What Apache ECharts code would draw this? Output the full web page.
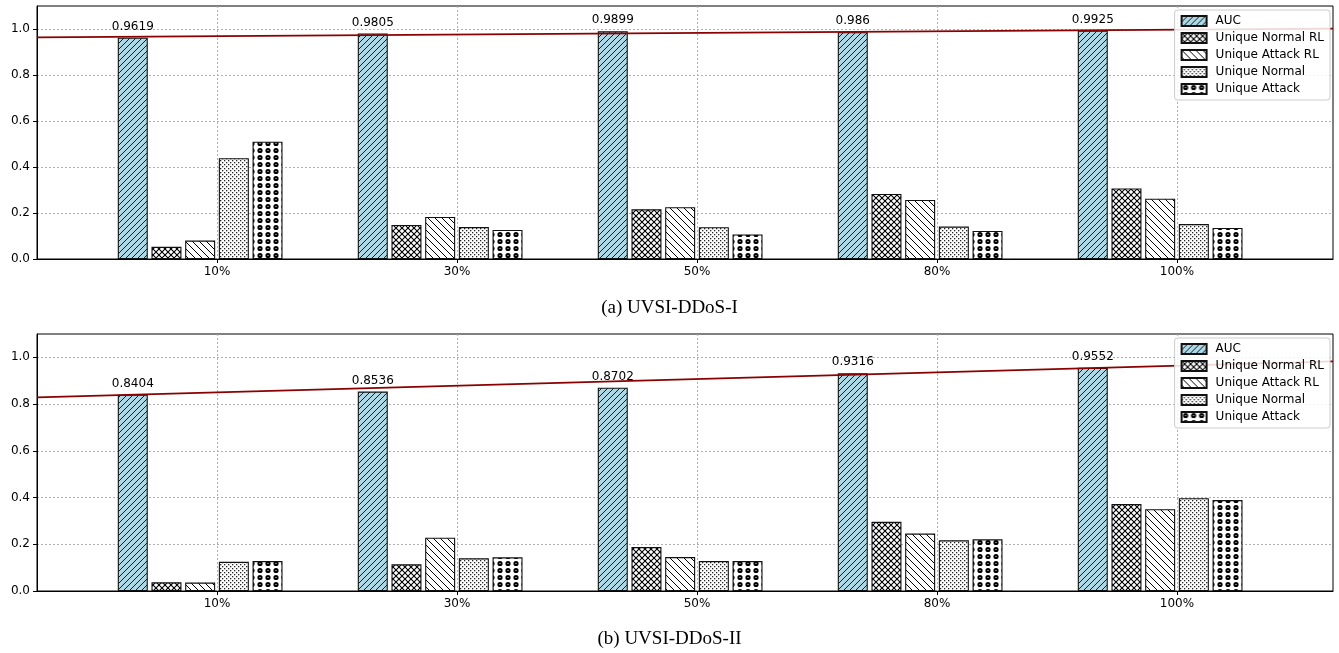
<!DOCTYPE html>
<html>
<head>
<meta charset="utf-8">
<script src="https://cdn.jsdelivr.net/npm/echarts@6/dist/echarts.min.js"></script>
<style>
html,body{margin:0;padding:0;background:#fff;}
#chart{width:1339px;height:653px;}
</style>
</head>
<body>
<div id="chart"></div>
<script>
// ---- data ----
const categories = ['10%', '30%', '50%', '80%', '100%'];
const seriesNames = ['AUC', 'Unique Normal RL', 'Unique Attack RL', 'Unique Normal', 'Unique Attack'];
const yTicks = [0, 0.2, 0.4, 0.6, 0.8, 1.0];
const captions = ['(a) UVSI-DDoS-I', '(b) UVSI-DDoS-II'];

// UVSI-DDoS-I
const aucA = [0.9619, 0.9805, 0.9899, 0.986, 0.9925];
const normalRLA = [0.053, 0.148, 0.216, 0.283, 0.307];
const attackRLA = [0.080, 0.183, 0.225, 0.257, 0.262];
const normalA = [0.438, 0.139, 0.138, 0.141, 0.152];
const attackA = [0.510, 0.126, 0.107, 0.122, 0.135];
const trendA = [0.964, 1.002];

// UVSI-DDoS-II
const aucB = [0.8404, 0.8536, 0.8702, 0.9316, 0.9552];
const normalRLB = [0.037, 0.114, 0.188, 0.296, 0.372];
const attackRLB = [0.036, 0.228, 0.145, 0.246, 0.350];
const normalB = [0.125, 0.140, 0.128, 0.217, 0.397];
const attackB = [0.128, 0.144, 0.128, 0.221, 0.389];
const trendB = [0.829, 0.983];

// x extent in category units
const xMin = -0.75, xMax = 4.65;

// ---- patterns ----
function tile(w, h, bg, draw) {
  const c = document.createElement('canvas');
  c.width = w; c.height = h;
  const g = c.getContext('2d');
  g.fillStyle = bg; g.fillRect(0, 0, w, h);
  g.strokeStyle = '#000'; g.fillStyle = '#000';
  draw(g, w, h);
  return { image: c, repeat: 'repeat' };
}
function fwd(g, s) { // '/'
  g.beginPath();
  g.moveTo(-1, s + 1); g.lineTo(s + 1, -1);
  g.moveTo(-1, 1); g.lineTo(1, -1);
  g.moveTo(s - 1, s + 1); g.lineTo(s + 1, s - 1);
  g.stroke();
}
function back(g, s) { // '\'
  g.beginPath();
  g.moveTo(-1, -1); g.lineTo(s + 1, s + 1);
  g.moveTo(s - 1, -1); g.lineTo(s + 1, 1);
  g.moveTo(-1, s - 1); g.lineTo(1, s + 1);
  g.stroke();
}
const patterns = [
  tile(6, 6, '#add8e6', (g) => { g.strokeStyle = '#1a1a1a'; g.lineWidth = 1; fwd(g, 6); }),
  tile(6, 6, '#ffffff', (g) => { g.lineWidth = 1.1; fwd(g, 6); back(g, 6); }),
  tile(7, 7, '#ffffff', (g) => { g.lineWidth = 1; back(g, 7); }),
  tile(4, 4, '#ffffff', (g) => { g.fillStyle = '#222'; g.fillRect(0, 0, 1.3, 1.3); g.fillRect(2, 2, 1.3, 1.3); }),
  tile(8, 7, '#ffffff', (g) => { g.lineWidth = 2; g.beginPath(); g.arc(4, 3.5, 1.6, 0, Math.PI * 2); g.stroke(); })
];

const FONT = 'DejaVu Sans';
const gridsPos = [
  { left: 37, right: 6, top: 6, height: 253 },
  { left: 37, right: 6, top: 334, height: 257 }
];
const sets = [
  { values: [aucA, normalRLA, attackRLA, normalA, attackA], trend: trendA },
  { values: [aucB, normalRLB, attackRLB, normalB, attackB], trend: trendB }
];

const grid = [], xAxis = [], yAxis = [], series = [], legend = [], title = [];
sets.forEach((set, gi) => {
  grid.push(Object.assign({ show: true, borderColor: '#000', borderWidth: 1, backgroundColor: '#fff' }, gridsPos[gi]));
  xAxis.push({
    type: 'value', gridIndex: gi, min: xMin, max: xMax,
    axisLine: { show: true, onZero: false, lineStyle: { color: '#000', width: 1 } },
    axisTick: { show: true, length: 4, customValues: categories.map((c, i) => i), lineStyle: { color: '#000' } },
    axisLabel: { customValues: categories.map((c, i) => i), formatter: (v) => categories[Math.round(v)], color: '#000', fontFamily: FONT, fontSize: 12, margin: 7 },
    splitLine: { show: true, lineStyle: { color: '#b0b0b0', type: [2, 2], width: 1 } }
  });
  yAxis.push({
    type: 'value', gridIndex: gi, min: 0, max: 1.1,
    axisLine: { show: true, onZero: false, lineStyle: { color: '#000', width: 1 } },
    axisTick: { show: true, length: 4, customValues: yTicks, lineStyle: { color: '#000' } },
    axisLabel: { customValues: yTicks, formatter: (v) => v.toFixed(1), color: '#000', fontFamily: FONT, fontSize: 12, margin: 7 },
    splitLine: { show: true, lineStyle: { color: '#b0b0b0', type: [2, 2], width: 1 } }
  });
  seriesNames.forEach((name, si) => {
    series.push({
      type: 'bar', name: name, xAxisIndex: gi, yAxisIndex: gi,
      barWidth: 30, barGap: '12.3%',
      data: set.values[si].map((v, i) => [i, v]),
      itemStyle: { color: patterns[si], borderColor: '#111', borderWidth: 1.1 },
      label: si === 0 ? { show: true, position: 'top', distance: 5, color: '#000', fontFamily: FONT, fontSize: 12,
        formatter: (p) => String(p.value[1]) } : { show: false },
      emphasis: { disabled: true },
      z: 2
    });
  });
  // empty slot to place the category tick between the 3rd and 4th bars
  series.push({
    type: 'bar', name: '_pad', xAxisIndex: gi, yAxisIndex: gi,
    barWidth: 30, barGap: '12.3%',
    data: categories.map((c, i) => [i, '-']),
    itemStyle: { color: 'rgba(0,0,0,0)' }, silent: true
  });
  series.push({
    type: 'line', name: 'trend', xAxisIndex: gi, yAxisIndex: gi,
    data: [[xMin, set.trend[0]], [xMax, set.trend[1]]],
    showSymbol: false, symbol: 'none',
    lineStyle: { color: '#8b0000', width: 1.8 },
    z: 5, silent: true
  });
  legend.push({
    data: seriesNames.map((n) => ({ name: n, icon: 'rect' })), orient: 'vertical',
    right: 9, top: gridsPos[gi].top + 4,
    itemWidth: 25, itemHeight: 10, itemGap: 5,
    backgroundColor: 'rgba(255,255,255,0.85)', borderColor: '#cccccc', borderWidth: 1, borderRadius: 3,
    padding: [5, 6, 5, 6],
    textStyle: { color: '#000', fontFamily: FONT, fontSize: 12, padding: [0, 0, 0, 4] },
    selectedMode: false, z: 10
  });
  title.push({
    text: captions[gi], left: 'center', top: gi === 0 ? 294 : 625,
    textStyle: { fontFamily: 'Liberation Serif', fontSize: 19, fontWeight: 'normal', color: '#000' }
  });
});

const chart = echarts.init(document.getElementById('chart'), null, { renderer: 'canvas' });
chart.setOption({
  animation: false,
  backgroundColor: '#fff',
  title, grid, xAxis, yAxis, legend, series
});
</script>
</body>
</html>
